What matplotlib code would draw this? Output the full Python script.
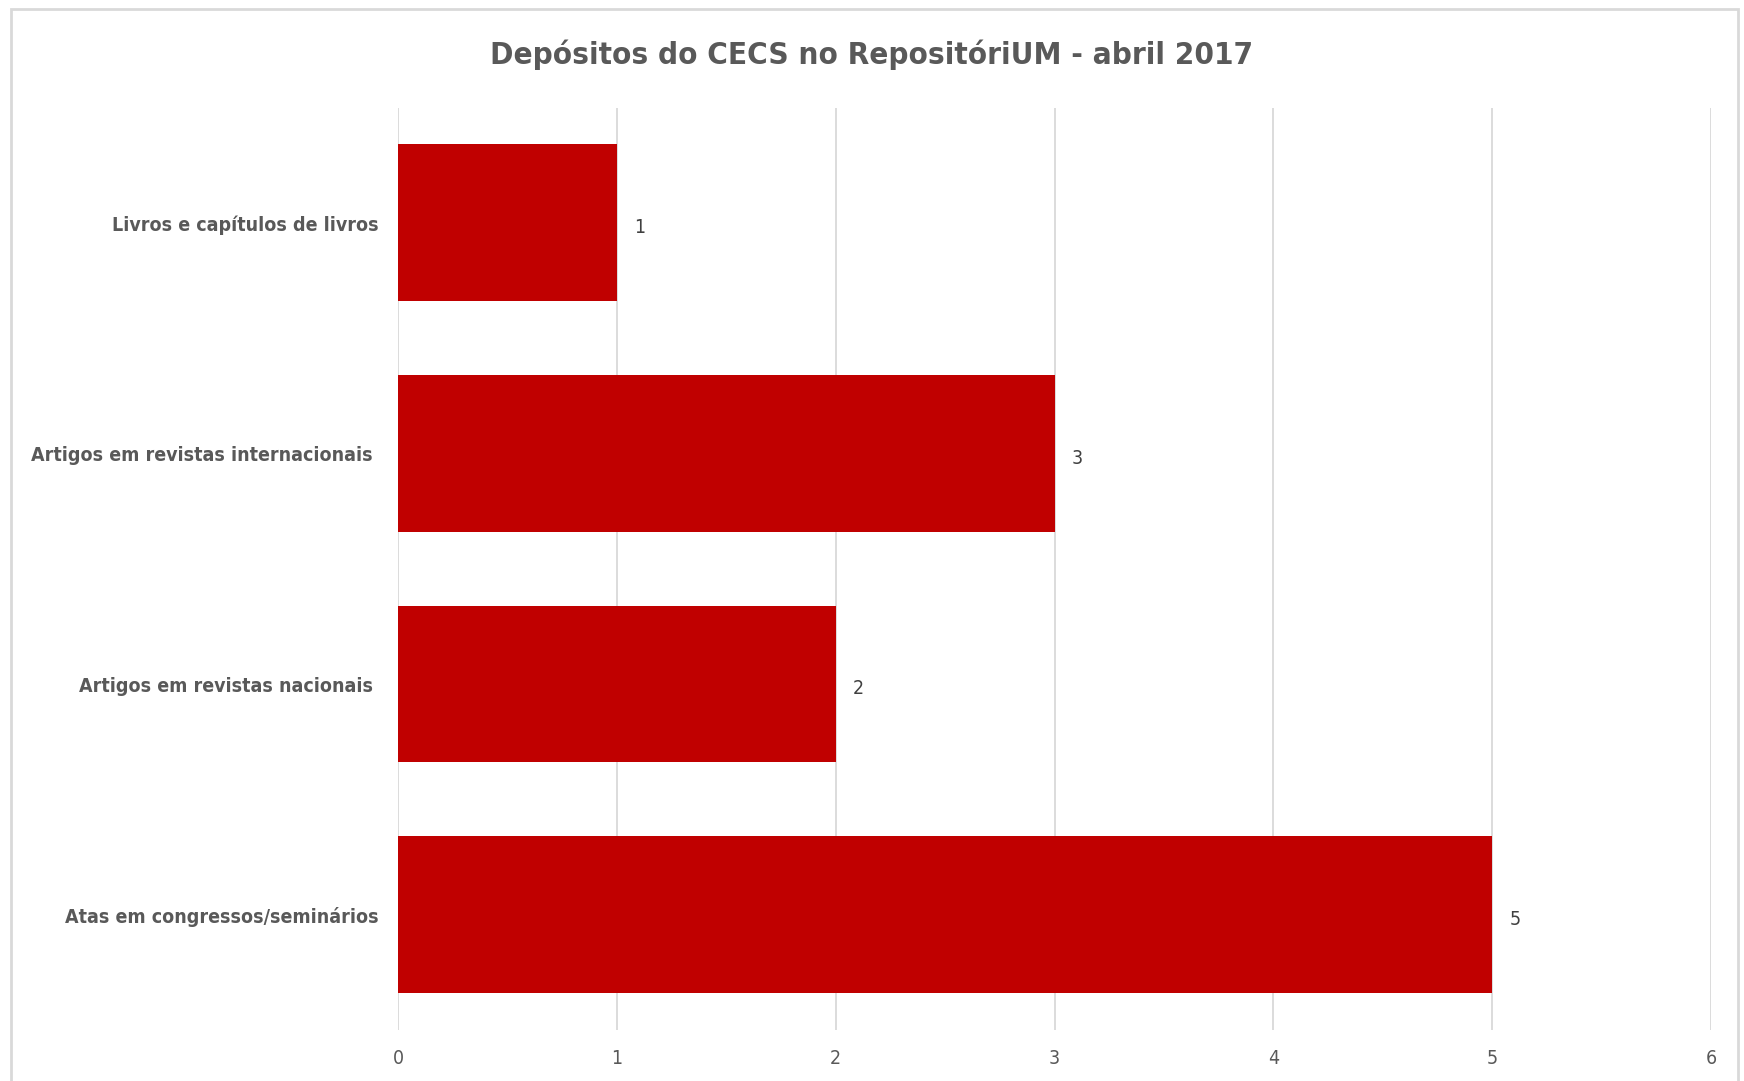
import matplotlib.pyplot as plt
from matplotlib.patches import Rectangle

categories = ["Livros e capítulos de livros",
              "Artigos em revistas internacionais ",
              "Artigos em revistas nacionais ",
              "Atas em congressos/seminários"]
values = [1, 3, 2, 5]
xticks = [0, 1, 2, 3, 4, 5, 6]

plt.rcParams['font.family'] = ['DejaVu Sans']
plt.rcParams['font.stretch'] = 'condensed'

fig = plt.figure(figsize=(17.44, 10.81), dpi=100)
ax = fig.add_axes([0.2283, 0.0472, 0.981 - 0.2283, 0.9005 - 0.0472])

# outer chart frame
fig.patches.append(Rectangle((0.0065, -0.01), 0.99, 0.9915 + 0.01, transform=fig.transFigure,
                             fill=False, edgecolor='#d9d9d9', linewidth=2))

ypos = list(range(len(categories)))
ax.barh(ypos, values, height=0.68, color='#C00000', zorder=3)
for y, v in zip(ypos, values):
    ax.text(v + 0.08, y + 0.02, str(v), va='center', ha='left', fontsize=14, color='#404040')

ax.set_ylim(len(categories) - 0.5, -0.5)
ax.set_xlim(0, 6)
ax.set_xticks(xticks)
ax.set_yticks(ypos)
ax.set_yticklabels(categories, fontsize=14, fontweight='bold', color='#595959')
ax.tick_params(axis='y', length=0, pad=14)
ax.tick_params(axis='x', length=0, pad=14, labelsize=14, labelcolor='#595959')
ax.grid(axis='x', color='#d9d9d9', linewidth=1.3, zorder=0)
for s in ax.spines.values():
    s.set_visible(False)

fig.text(0.5, 0.949, "Depósitos do CECS no RepositóriUM - abril 2017", ha='center', va='center',
         fontsize=22.5, fontweight='bold', color='#595959')

fig.savefig("out.png", dpi=100)
